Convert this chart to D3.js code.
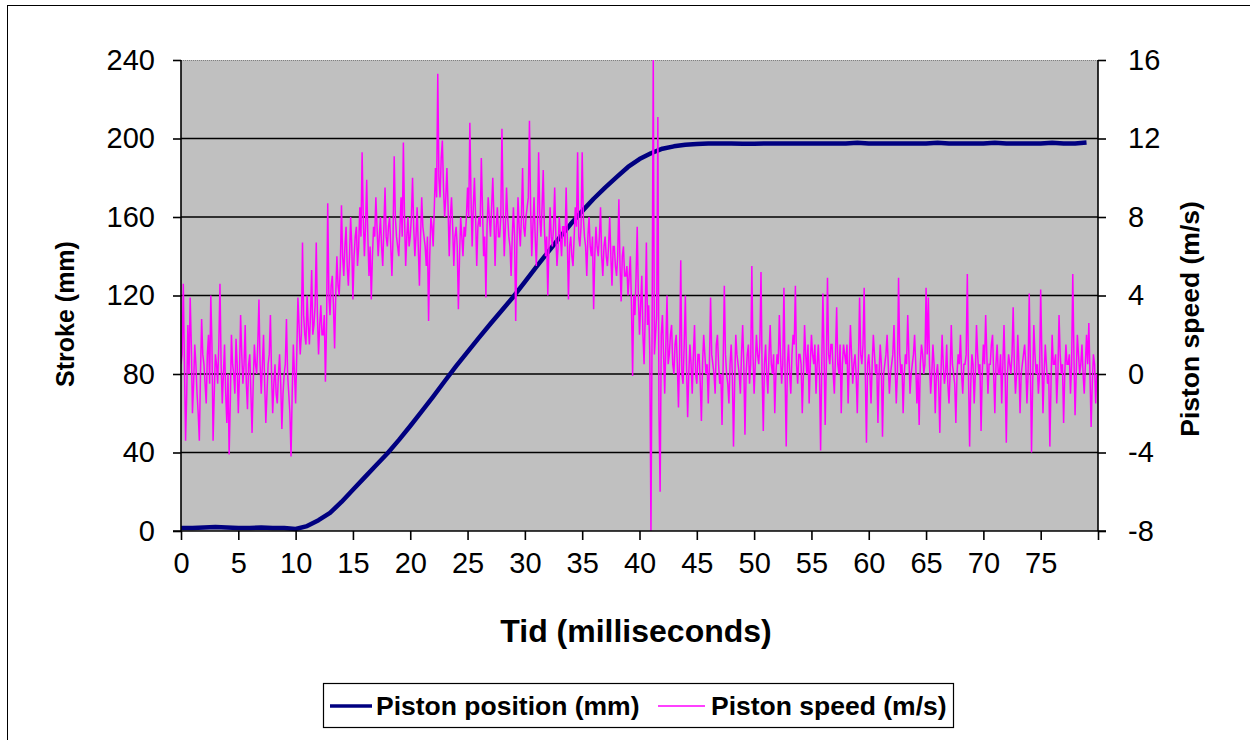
<!DOCTYPE html>
<html><head><meta charset="utf-8">
<script src="https://cdn.jsdelivr.net/npm/d3@7"></script>
<style>html,body{margin:0;padding:0;background:#fff;}svg{display:block;}</style>
</head><body>
<svg id="chart" width="1250" height="740"></svg>
<script>
// ---- DATA ----
const xTicks = [0,5,10,15,20,25,30,35,40,45,50,55,60,65,70,75];
const strokeTicks = [0,40,80,120,160,200,240];
const speedTicks = [-8,-4,0,4,8,12,16];
const seriesNames = ["Piston position (mm)", "Piston speed (m/s)"];

// Piston position (mm), one value per millisecond, t = 0..79
const positionTime = d3.range(0, 80, 1);
const positionMM = [
 1.5,1.5,1.8,2.0,1.8,1.5,1.5,1.8,1.5,1.5,
 1.0,2.5,5.5,9.2,14.8,21.0,27.2,33.4,39.5,46.3,
 53.5,61.0,68.5,76.3,84.0,91.3,98.5,105.6,112.5,119.4,
 127.0,134.6,142.0,149.3,156.4,163.0,169.3,175.0,180.3,185.5,
 189.5,192.5,194.8,196.0,196.8,197.2,197.5,197.5,197.5,197.3,
 197.3,197.5,197.5,197.5,197.5,197.5,197.5,197.5,197.5,197.8,
 197.5,197.5,197.5,197.5,197.5,197.5,197.8,197.5,197.5,197.5,
 197.5,197.8,197.5,197.5,197.5,197.5,197.8,197.5,197.5,198.0
];

// Piston speed (m/s), one value every 0.1 ms, t = 0.0..79.9 (one row per ms)
const speedTime = d3.range(0, 800).map(i => i * 0.1);
const speedMS = [
 0.5,1.0,4.6,0.5,-3.4,-1.0,2.5,0.0,3.9,1.5,
 -2.0,-0.5,1.5,0.5,-1.0,-2.0,-3.4,0.0,2.8,1.0,
 0.5,-0.5,-1.5,1.0,2.0,-0.5,4.0,1.5,-3.4,-1.0,
 1.0,0.5,-0.5,1.5,4.6,0.5,-1.5,0.0,1.5,-1.0,
 -2.5,0.0,-4.1,-1.5,2.0,0.5,0.0,-1.0,1.8,0.5,
 -2.0,0.0,3.0,1.0,-0.5,0.5,2.5,-0.5,-1.8,0.5,
 1.0,-1.0,-3.0,-0.5,1.5,0.5,0.0,1.5,3.8,0.5,
 -1.0,0.5,2.0,-0.5,-2.5,-1.0,0.5,1.0,3.0,0.0,
 -2.0,-0.5,0.5,-1.0,-1.5,0.0,1.0,-0.5,-2.8,-1.0,
 0.0,0.5,2.8,0.0,-1.0,-2.0,-4.2,-1.0,1.5,0.0,
 -1.5,1.0,3.9,2.5,1.0,2.0,6.7,3.0,2.0,1.5,
 4.0,2.5,1.5,3.0,5.3,2.0,2.5,3.5,6.7,3.0,
 1.0,2.5,3.5,2.0,2.0,3.0,-0.4,2.5,8.7,4.0,
 3.0,4.5,5.0,3.5,1.3,4.0,6.0,4.5,4.0,5.5,
 8.6,6.0,5.0,6.5,7.5,5.5,4.5,6.0,8.0,6.5,
 3.8,6.0,7.0,7.5,5.5,6.5,8.5,7.0,11.3,8.0,
 6.0,7.5,9.9,7.0,5.0,6.5,3.8,6.0,7.5,7.0,
 9.0,7.5,6.0,7.0,8.0,6.5,5.5,7.5,9.5,7.0,
 6.5,7.5,8.0,6.5,5.0,7.0,11.1,8.0,7.0,6.5,
 6.0,7.5,9.0,7.0,11.8,8.0,5.5,7.0,8.0,6.5,
 7.0,8.0,10.0,7.5,6.0,7.0,8.5,6.5,4.5,7.0,
 9.0,7.5,7.0,6.5,5.5,7.0,2.7,6.0,8.0,7.5,
 6.5,8.5,10.5,9.0,15.3,10.0,9.0,11.0,11.9,9.5,
 8.0,9.0,10.5,8.5,6.0,8.0,9.0,7.5,5.5,7.0,
 7.5,6.5,3.3,6.0,8.0,7.0,6.0,7.5,7.0,8.0,
 9.5,8.0,12.8,9.0,6.5,8.5,10.0,8.0,5.5,7.5,
 8.0,7.5,11.0,8.5,6.0,7.0,3.9,7.5,9.0,8.0,
 7.0,8.5,10.0,8.0,5.5,7.5,8.5,7.0,7.0,8.0,
 12.5,8.5,6.0,7.5,9.5,8.0,7.0,6.5,5.0,7.0,
 8.5,7.0,2.7,6.5,9.0,7.5,6.5,8.0,10.5,7.5,
 7.0,8.0,8.5,9.0,12.9,8.5,6.0,7.5,9.0,7.0,
 5.5,7.5,11.3,8.0,7.0,8.5,10.4,7.5,6.0,7.0,
 4.0,6.5,8.5,7.0,6.5,7.5,9.5,7.0,5.5,6.5,
 8.0,7.0,6.0,7.5,7.5,6.5,9.5,7.0,3.8,6.5,
 7.0,6.0,5.5,7.0,8.5,7.5,11.3,7.0,6.5,7.5,
 11.3,8.0,7.0,6.5,5.0,7.0,8.0,6.5,6.0,7.0,
 3.3,6.0,7.5,6.5,6.0,7.0,8.5,6.0,5.0,6.5,
 7.0,6.0,5.5,6.5,8.0,6.0,4.5,6.5,6.5,5.5,
 5.0,6.0,8.9,5.5,3.7,6.0,6.5,5.0,5.0,5.5,
 4.0,5.0,6.0,3.5,-0.1,4.0,3.0,5.0,7.5,4.0,
 2.0,3.5,5.0,2.0,0.5,3.0,6.7,2.5,3.5,1.0,
 -8.0,2.5,16.0,1.0,2.0,3.0,13.1,-2.0,-6.0,2.0,
 3.0,1.0,-1.0,1.5,4.0,0.5,1.0,2.0,2.5,0.5,
 0.0,1.5,2.0,0.5,-1.7,1.0,5.8,0.0,-0.5,1.5,
 4.0,0.5,-2.2,0.0,1.5,0.5,-1.0,1.0,2.5,0.0,
 -0.5,1.0,1.0,-0.5,-2.4,0.5,2.0,1.0,0.0,0.5,
 -1.5,0.5,3.9,1.0,0.5,0.0,-1.0,1.5,2.0,0.5,
 -0.5,0.0,-2.6,0.5,4.5,1.0,0.0,-0.5,-1.5,0.5,
 1.5,0.0,-3.7,-0.5,2.0,1.0,0.5,0.0,-1.0,1.0,
 2.5,0.5,-3.1,0.0,1.0,1.5,-0.5,0.5,5.5,1.0,
 -1.0,0.5,2.0,1.0,0.5,1.5,5.2,0.0,-2.9,0.5,
 1.5,0.0,-1.0,1.0,2.5,0.5,0.0,1.0,-2.0,0.0,
 1.0,0.5,3.0,1.0,-0.5,0.5,4.4,0.0,-3.7,0.5,
 1.5,0.0,-1.0,1.0,2.0,1.5,4.5,0.5,-0.5,1.0,
 1.0,0.5,-2.0,0.0,2.5,1.0,0.0,1.5,-1.5,0.5,
 2.0,1.0,0.5,1.5,-1.0,0.5,1.5,0.0,-3.9,0.5,
 4.1,1.0,-2.6,0.5,4.9,1.0,0.5,1.5,1.5,0.0,
 -1.0,1.0,3.4,0.5,0.0,1.5,-2.0,0.5,1.5,1.0,
 0.5,1.5,-1.5,0.5,2.5,1.0,-0.5,0.5,1.0,0.0,
 -2.0,0.5,3.9,1.0,0.5,1.5,4.4,0.0,-3.5,0.5,
 1.0,0.0,-1.5,0.5,2.0,1.0,0.0,0.5,-2.5,0.0,
 1.5,0.5,-3.2,0.0,0.5,1.0,2.0,0.5,-1.0,0.0,
 0.5,1.0,2.5,0.5,-1.5,0.0,4.9,1.0,0.0,0.5,
 -2.0,0.0,1.0,0.5,3.0,1.0,-1.0,0.0,0.5,1.0,
 2.0,0.5,-1.5,0.0,-2.6,0.5,1.5,1.0,0.0,0.5,
 4.4,1.0,3.9,0.5,-1.0,0.0,1.5,0.5,-2.0,0.0,
 0.5,-0.5,-3.0,0.0,2.0,0.5,-0.5,0.0,1.5,-0.5,
 -1.5,0.0,2.5,0.5,0.0,-0.5,-2.5,0.0,1.0,0.5,
 2.0,0.0,-1.0,0.5,0.5,1.0,5.1,0.0,-3.7,-0.5,
 1.0,0.5,-1.5,0.0,2.5,1.0,0.0,0.5,-2.9,0.0,
 1.5,0.5,3.0,1.0,-1.0,0.5,0.5,1.5,2.0,0.0,
 -2.0,0.5,1.5,0.0,0.0,1.0,-1.5,0.5,2.5,0.0,
 -3.5,0.0,1.0,0.5,0.0,1.0,3.4,0.5,-1.0,0.0,
 2.0,0.5,-2.0,0.0,0.5,1.0,1.5,0.5,-1.5,0.0,
 4.1,0.5,-4.0,-0.5,2.5,1.0,0.0,0.5,-1.0,0.0,
 4.3,1.0,-2.0,0.0,1.5,0.5,-0.5,0.0,-3.7,-0.5,
 2.0,0.5,0.5,1.0,-1.5,0.0,3.0,1.0,0.0,0.5,
 -2.5,0.0,1.5,0.5,0.5,1.0,-1.0,0.5,5.1,1.0,
 -2.1,0.0,2.0,1.0,0.0,0.5,1.5,0.0,-1.0,0.5,
 2.0,0.5,2.6,0.0,-2.7,-0.5,1.0,0.5,-1.5,0.0
];

// ---- CHART ----
const svg = d3.select("#chart");
const L = 181, R = 1098, T = 60, B = 531;
const x = d3.scaleLinear().domain([0, 80]).range([L, R]);
const yL = d3.scaleLinear().domain([0, 240]).range([B, T]);
const yR = d3.scaleLinear().domain([-8, 16]).range([B, T]);

// outer chart border (only top/left visible in frame)
svg.append("rect").attr("x", 7.5).attr("y", 5.5).attr("width", 1300).attr("height", 800)
  .attr("fill", "none").attr("stroke", "#000").attr("stroke-width", 1);

// plot area
svg.append("rect").attr("x", L).attr("y", T).attr("width", R - L).attr("height", B - T)
  .attr("fill", "#C0C0C0");
svg.append("line").attr("x1", L).attr("x2", R).attr("y1", T + 0.5).attr("y2", T + 0.5)
  .attr("stroke", "#808080").attr("stroke-width", 1).attr("stroke-dasharray", "1,1");

// gridlines
svg.append("g").selectAll("line").data(strokeTicks.filter(v => v > 0 && v < 240)).join("line")
  .attr("x1", L).attr("x2", R).attr("y1", d => yL(d)).attr("y2", d => yL(d))
  .attr("stroke", "#000").attr("stroke-width", 1.6);

// series
svg.append("clipPath").attr("id", "clip").append("rect")
  .attr("x", L).attr("y", T - 1).attr("width", R - L + 1).attr("height", B - T + 2);

const posLine = d3.line().x((d, i) => x(positionTime[i])).y(d => yL(d));
svg.append("path").datum(positionMM).attr("d", posLine)
  .attr("fill", "none").attr("stroke", "#000080").attr("stroke-width", 4.5)
  .attr("stroke-linejoin", "round").attr("clip-path", "url(#clip)");

const spdLine = d3.line().x((d, i) => x(speedTime[i])).y(d => yR(d));
svg.append("path").datum(speedMS).attr("d", spdLine)
  .attr("fill", "none").attr("stroke", "#FF00FF").attr("stroke-width", 1.5)
  .attr("clip-path", "url(#clip)");

// axes
const fontTick = "'Liberation Sans', Arial, sans-serif";
const fmt = d => String(d).replace("\u2212", "-");
const ax = svg.append("g").attr("transform", `translate(0,${B})`)
  .call(d3.axisBottom(x).tickValues(d3.range(0, 85, 5)).tickSize(9).tickPadding(12)
    .tickFormat(d => xTicks.includes(d) ? fmt(d) : ""));
const al = svg.append("g").attr("transform", `translate(${L},0)`)
  .call(d3.axisLeft(yL).tickValues(strokeTicks).tickSize(8).tickPadding(18).tickFormat(fmt));
const ar = svg.append("g").attr("transform", `translate(${R},0)`)
  .call(d3.axisRight(yR).tickValues(speedTicks).tickSize(8).tickPadding(22).tickFormat(fmt));
[ax, al, ar].forEach(g => {
  g.select(".domain").remove();
  g.selectAll(".tick line").attr("stroke", "#000").attr("stroke-width", 1.6);
  g.selectAll(".tick text").attr("fill", "#000").style("font-family", fontTick)
    .style("font-size", "29px");
});
ax.selectAll(".tick text").attr("dy", "0.71em");
// axis lines
svg.append("line").attr("x1", L - 8).attr("x2", R + 8).attr("y1", B).attr("y2", B)
  .attr("stroke", "#000").attr("stroke-width", 1.6);
svg.append("line").attr("x1", L).attr("x2", L).attr("y1", T).attr("y2", B)
  .attr("stroke", "#000").attr("stroke-width", 1.6);
svg.append("line").attr("x1", R).attr("x2", R).attr("y1", T).attr("y2", B)
  .attr("stroke", "#000").attr("stroke-width", 1.6);

// titles
const titleFont = "'Liberation Sans', Arial, sans-serif";
svg.append("text").attr("x", 636).attr("y", 642).attr("text-anchor", "middle")
  .style("font-family", titleFont).style("font-weight", "bold").style("font-size", "32px")
  .text("Tid (milliseconds)");
svg.append("text").attr("transform", "translate(74,314) rotate(-90)").attr("text-anchor", "middle")
  .style("font-family", titleFont).style("font-weight", "bold").style("font-size", "25px")
  .text("Stroke (mm)");
svg.append("text").attr("transform", "translate(1199,319) rotate(-90)").attr("text-anchor", "middle")
  .style("font-family", titleFont).style("font-weight", "bold").style("font-size", "26.5px")
  .text("Piston speed (m/s)");

// legend
const lg = svg.append("g");
lg.append("rect").attr("x", 323.5).attr("y", 683.5).attr("width", 630).attr("height", 44)
  .attr("fill", "#fff").attr("stroke", "#000").attr("stroke-width", 1.2);
const legendItems = [
  {name: seriesNames[0], color: "#000080", w: 3.5, x0: 330, x1: 372, tx: 376},
  {name: seriesNames[1], color: "#FF00FF", w: 1.6, x0: 658, x1: 705, tx: 711}
];
legendItems.forEach(it => {
  lg.append("line").attr("x1", it.x0).attr("x2", it.x1).attr("y1", 706).attr("y2", 706)
    .attr("stroke", it.color).attr("stroke-width", it.w);
  lg.append("text").attr("x", it.tx).attr("y", 715)
    .style("font-family", "'Liberation Sans', Arial, sans-serif")
    .style("font-weight", "bold").style("font-size", "26.5px").text(it.name);
});
</script>
</body></html>
